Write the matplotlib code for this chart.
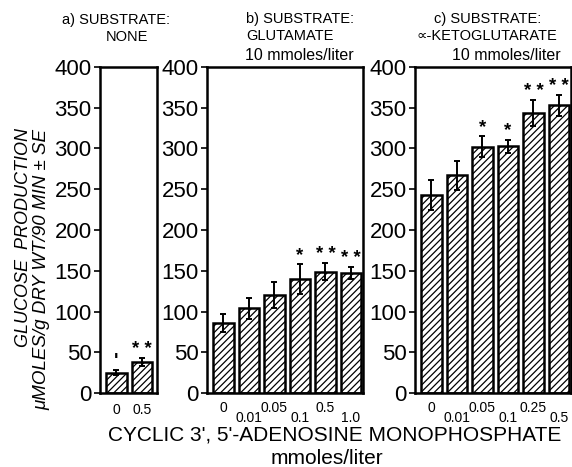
"""
Glucose production vs cyclic AMP, three substrate panels.
"""

import matplotlib
matplotlib.use("Agg")
import matplotlib.pyplot as plt

plt.rcParams['font.family'] = ['Liberation Sans', 'DejaVu Sans']
plt.rcParams['hatch.linewidth'] = 0.9

# panel a) substrate: none
a_doses = ['0', '0.5']
a_means = [25, 38]
a_se = [3, 5]
a_marks = ["'", '* *']

# panel b) glutamate 10 mmoles/liter
b_doses = ['0', '0.01', '0.05', '0.1', '0.5', '1.0']
b_means = [86, 104, 120, 140, 149, 147]
b_se = [11, 13, 16, 18, 10, 7]
b_marks = ['', '', '', '*', '* *', '* *']

# panel c) alpha-ketoglutarate 10 mmoles/liter
c_doses = ['0', '0.01', '0.05', '0.1', '0.25', '0.5']
c_means = [243, 267, 302, 303, 343, 353]
c_se = [18, 18, 13, 8, 16, 13]
c_marks = ['', '', '*', '*', '* *', '* *']

yticks = [0, 50, 100, 150, 200, 250, 300, 350, 400]

W, H = 572, 467
fig = plt.figure(figsize=(W / 100, H / 100), dpi=100)


def px_axes(left, right, top=67, bottom=393):
    return fig.add_axes([left / W, 1 - bottom / H, (right - left) / W, (bottom - top) / H])


def put(x, y, s, size, **kw):
    fig.text(x / W, 1 - y / H, s, fontsize=size, va='center', **kw)


def draw_panel(ax, doses, means, se, marks, xlim, stagger=True):
    x = list(range(len(doses)))
    ax.bar(x, means, width=0.8, color='white', edgecolor='black',
           linewidth=1.8, hatch='/////')
    ax.errorbar(x, means, yerr=se, fmt='none', ecolor='black',
                elinewidth=1.4, capsize=2.5, capthick=1.4)
    for i, m in enumerate(marks):
        if m:
            ax.annotate(m, (x[i], means[i] + se[i]), xytext=(0, 0),
                        textcoords='offset points', ha='center', va='bottom',
                        fontsize=13.5, fontweight='bold')
    ax.set_xlim(*xlim)
    ax.set_ylim(0, 400)
    ax.set_yticks(yticks)
    ax.set_yticklabels([str(t) for t in yticks], fontsize=16)
    ax.tick_params(axis='y', direction='out', length=4, width=1.2, pad=2)
    if stagger:
        # staggered dose labels: even on major, odd on minor ticks
        ax.set_xticks(x[0::2])
        ax.set_xticklabels(doses[0::2], fontsize=10)
        ax.set_xticks(x[1::2], minor=True)
        ax.set_xticklabels(doses[1::2], minor=True, fontsize=10)
        ax.tick_params(axis='x', which='major', length=0, pad=6)
        ax.tick_params(axis='x', which='minor', length=0, pad=13)
    else:
        ax.set_xticks(x)
        ax.set_xticklabels(doses, fontsize=10)
        ax.tick_params(axis='x', length=0, pad=7)
    for s in ax.spines.values():
        s.set_linewidth(1.8)


ax_a = px_axes(100, 157)
draw_panel(ax_a, a_doses, a_means, a_se, a_marks, (-0.635, 1.58), stagger=False)

ax_b = px_axes(207, 363)
draw_panel(ax_b, b_doses, b_means, b_se, b_marks, (-0.645, 5.47))

ax_c = px_axes(415, 571)
draw_panel(ax_c, c_doses, c_means, c_se, c_marks, (-0.645, 5.47))

# panel titles
put(62, 20, 'a) SUBSTRATE:', 10.5)
put(106, 37, 'NONE', 10.5)
put(246, 19, 'b) SUBSTRATE:', 10.5)
put(246, 36, 'GLUTAMATE', 10.5)
put(245, 56, '10 mmoles/liter', 11.5)
put(434, 19, 'c) SUBSTRATE:', 10.5)
put(416, 36, '\u221d-KETOGLUTARATE', 10.5)
put(452, 56, '10 mmoles/liter', 11.5)

# y axis title (two italic lines)
fig.text(24 / W, 1 - 128 / H, 'GLUCOSE  PRODUCTION', rotation=90,
         ha='center', va='top', fontsize=13, style='italic')
fig.text(42 / W, 1 - 129 / H, '\u03bcMOLES/g DRY WT/90 MIN \u00b1 SE', rotation=90,
         ha='center', va='top', fontsize=13.5, style='italic')

# x axis title
put(335, 435, "CYCLIC 3', 5'-ADENOSINE MONOPHOSPHATE", 15, ha='center')
put(327, 458, 'mmoles/liter', 15, ha='center')

fig.savefig('out.png', dpi=100)
